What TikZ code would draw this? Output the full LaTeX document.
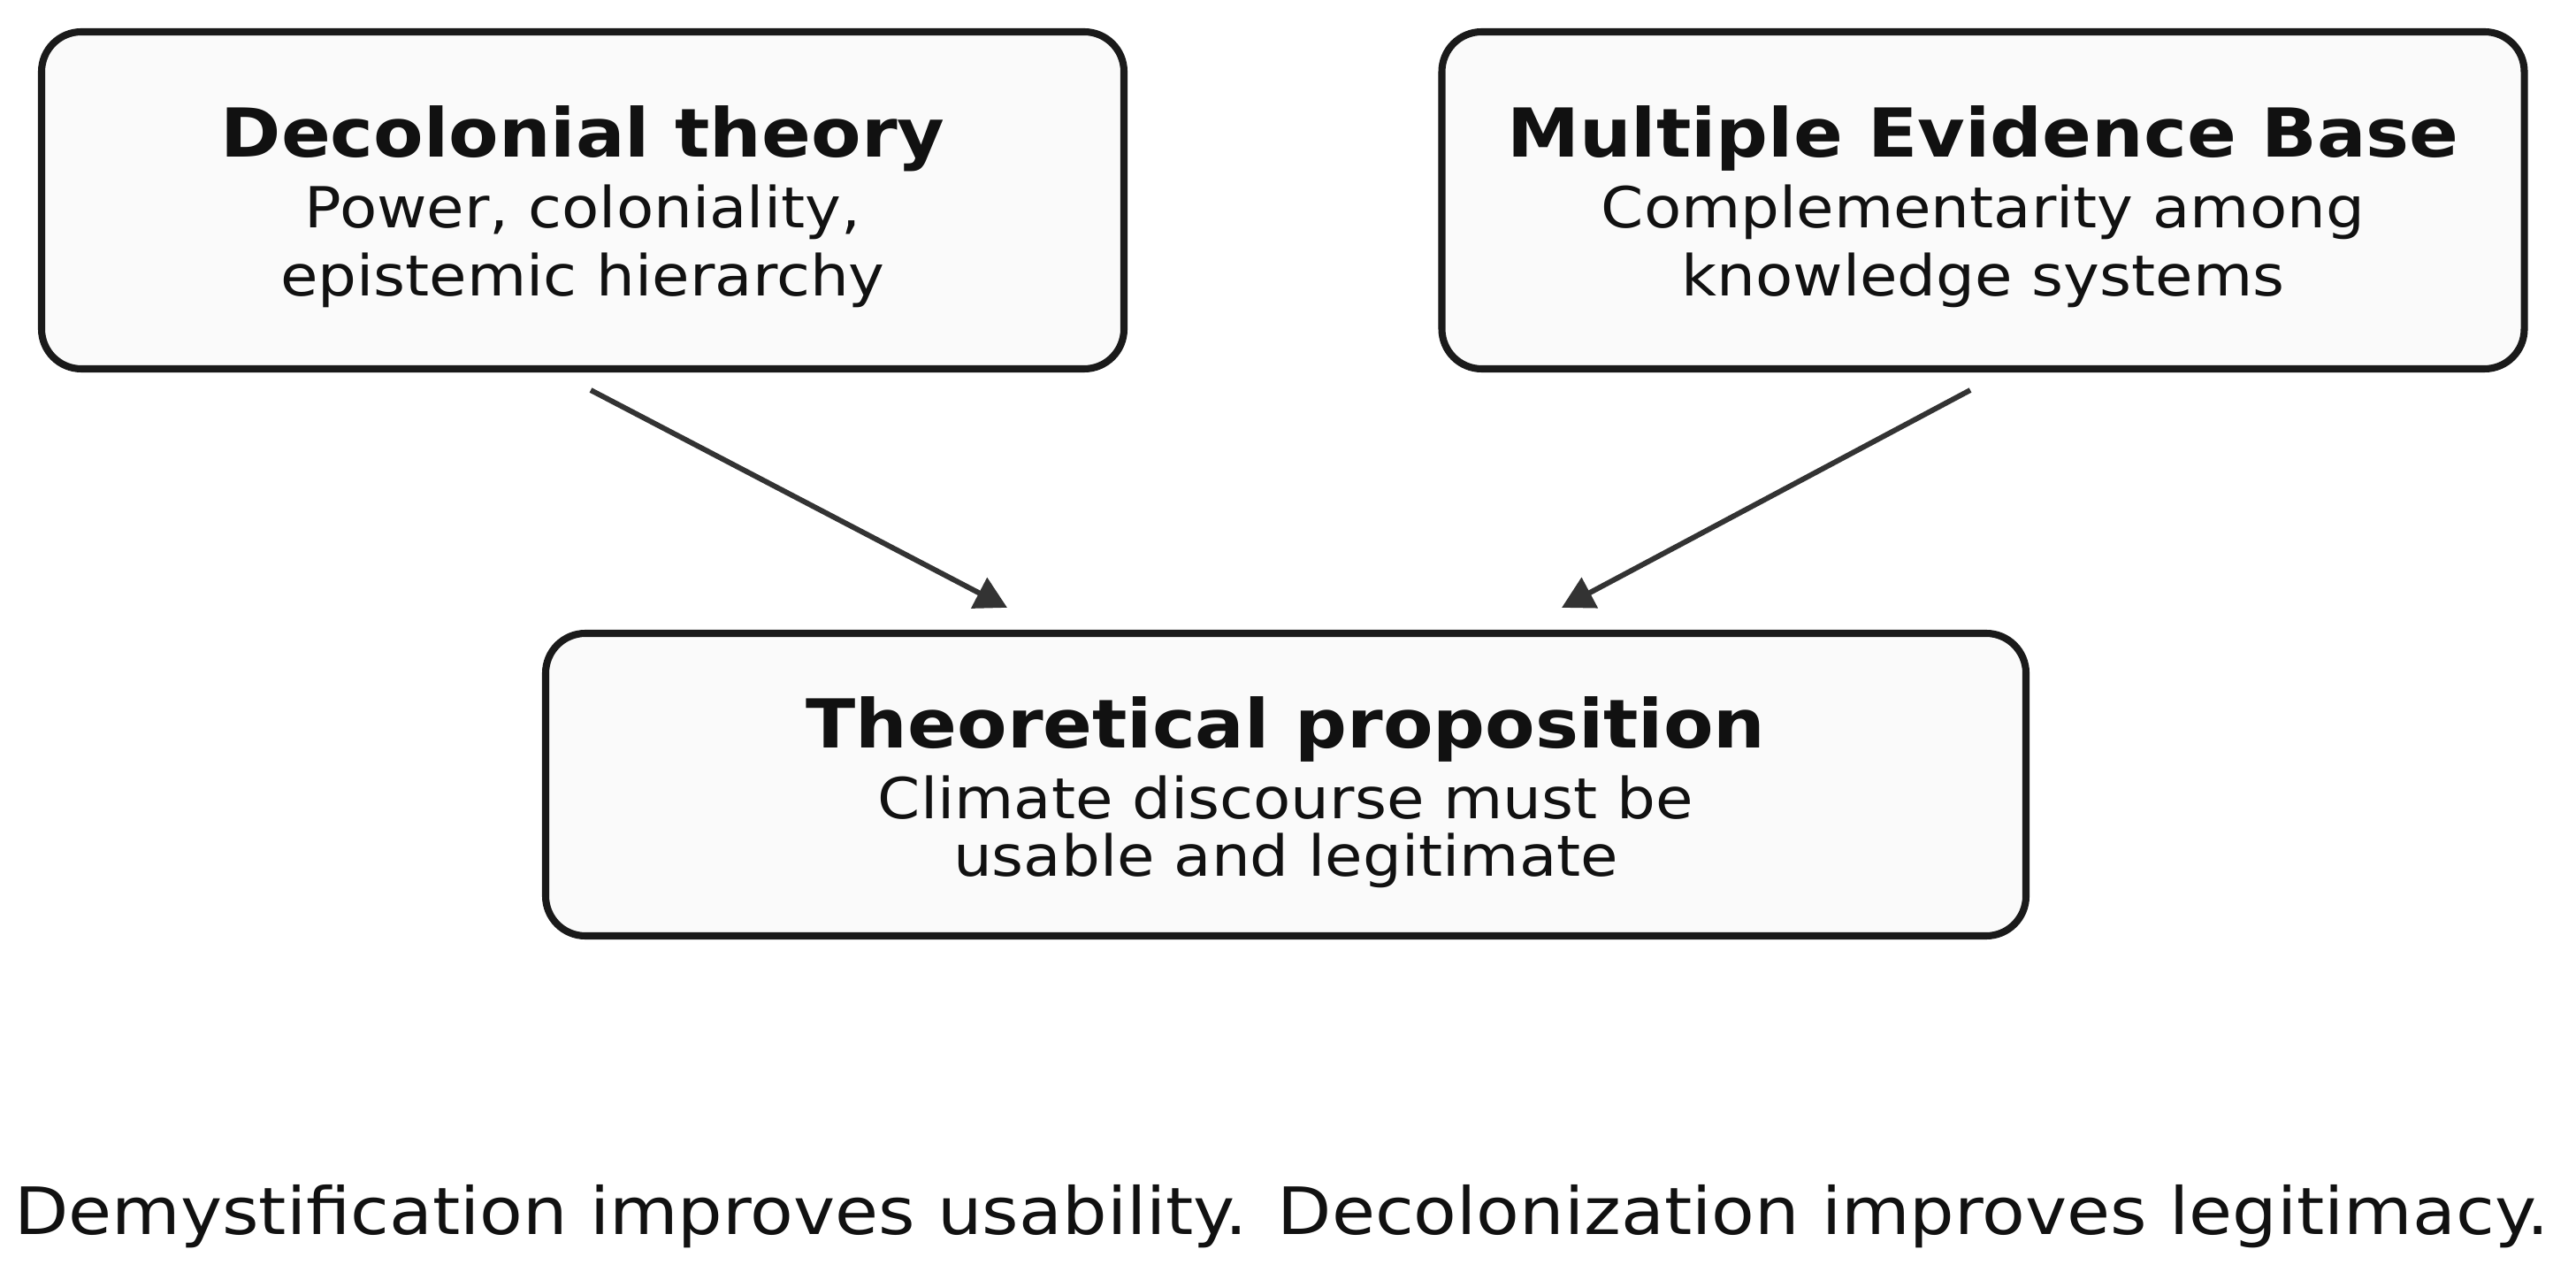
\documentclass[tikz,border=0pt]{standalone}
\usepackage{fontspec}
\usepackage{tikz}
\setmainfont{DejaVu Sans}[FakeStretch=1.08]
\usetikzlibrary{arrows.meta}
\definecolor{boxfill}{HTML}{FAFAFA}
\definecolor{boxline}{HTML}{1A1A1A}
\definecolor{arrowgray}{HTML}{333333}
\definecolor{inkblack}{HTML}{111111}
% bold heading line of a box, with a strut that sets the text a bit lower
\newcommand{\boxtitle}[2][0.73cm]{{\bfseries\fontsize{21.7}{22.7}\selectfont\rule{0pt}{#1}#2}}

\begin{document}
\begin{tikzpicture}[
      box/.style={draw=boxline,fill=boxfill,line width=2.3pt,rounded corners=0.45cm,align=center,
        text=inkblack,inner sep=0pt,minimum width=12.24cm,minimum height=3.81cm,
        font=\fontsize{18.2}{21.9}\selectfont},
      arrow/.style={-{Triangle[length=0.36cm,width=0.38cm]},line width=1.7pt,draw=arrowgray,fill=arrowgray}]
    \useasboundingbox[fill=white] (0,0) rectangle (29.13,14.46);
    \node[box] (dec) at (6.59,12.195) {\boxtitle{Decolonial theory}\\[0.03cm]Power, coloniality,\\epistemic hierarchy};
    \node[box] (meb) at (22.425,12.195) {\boxtitle{Multiple Evidence Base}\\[0.03cm]Complementarity among\\knowledge systems};
    \node[box,minimum width=16.74cm,minimum height=3.42cm,font=\fontsize{18.2}{18.5}\selectfont] (prop) at (14.54,5.59)
      {\boxtitle[0.76cm]{Theoretical proposition}\\[0.15cm]Climate discourse must be\\usable and legitimate};
    \node[anchor=base,text=inkblack,font=\fontsize{21}{25}\selectfont] (note) at (14.49,0.51)
      {Demystification improves usability. Decolonization improves legitimacy.};
    % arrow ends
    \coordinate (decout) at ([shift={(0.09,-0.2)}]dec.south);
    \coordinate (mebout) at ([shift={(-0.145,-0.2)}]meb.south);
    \coordinate (propinL) at ([shift={(-3.15,0.25)}]prop.north);
    \coordinate (propinR) at ([shift={(3.12,0.25)}]prop.north);
    \draw[arrow] (decout)--(propinL);
    \draw[arrow] (mebout)--(propinR);
  \end{tikzpicture}
\end{document}
